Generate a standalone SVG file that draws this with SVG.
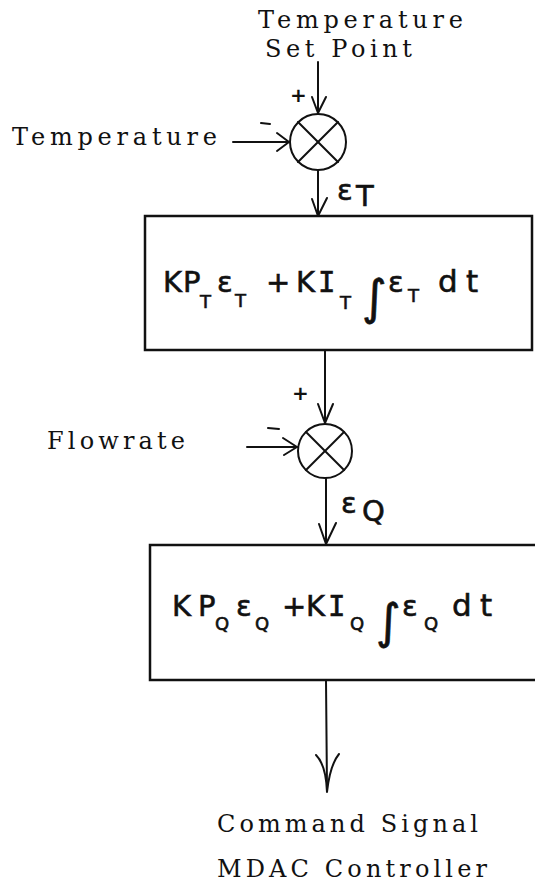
<svg xmlns="http://www.w3.org/2000/svg" width="535" height="887" viewBox="0 0 535 887">
<style>
.lbl{font-family:"DejaVu Serif","Liberation Serif",serif;font-size:24px;fill:#111}
.f{font-family:"DejaVu Sans","Liberation Sans",sans-serif;font-size:29px;fill:#111;stroke:#111;stroke-width:0.6}
.s{font-size:18px}
.m{font-family:"DejaVu Sans Mono","Liberation Mono",monospace}
.box{fill:none;stroke:#111;stroke-width:2.5}
.ln{fill:none;stroke:#111;stroke-width:2;stroke-linecap:round;stroke-linejoin:round}
.sig{font-family:"DejaVu Sans","Liberation Sans",sans-serif;font-size:20px;font-weight:bold;fill:#111}
</style>
<rect width="535" height="887" fill="#fff"/>
<g id="labels">
<text class="lbl" x="258" y="28" textLength="205" lengthAdjust="spacing">Temperature</text>
<text class="lbl" x="265" y="57" textLength="147" lengthAdjust="spacing">Set Point</text>
<text class="lbl" x="12" y="145" textLength="205" lengthAdjust="spacing">Temperature</text>
<text class="lbl" x="47" y="449" textLength="138" lengthAdjust="spacing">Flowrate</text>
<text class="lbl" x="217" y="832" textLength="261" lengthAdjust="spacing">Command Signal</text>
<text class="lbl" x="217" y="877" textLength="270" lengthAdjust="spacing">MDAC Controller</text>
</g>
<g id="sum1">
<circle cx="318" cy="142" r="28" class="ln"/>
<line x1="298" y1="122" x2="338" y2="162" class="ln"/>
<line x1="338" y1="122" x2="298" y2="162" class="ln"/>
<text class="sig" x="290" y="102">+</text>
<line x1="261" y1="123" x2="270" y2="124" class="ln" stroke-width="2.5"/>
</g>
<g id="pi1">
<rect x="145" y="216" width="387" height="134" class="box"/>
<text class="f">
<tspan x="163" y="292">K</tspan><tspan x="183" y="292">P</tspan><tspan class="s" x="200" y="308">T</tspan><tspan x="217" y="292">ε</tspan><tspan class="s" x="235" y="307">T</tspan><tspan x="266" y="292">+</tspan><tspan x="296" y="292">K</tspan><tspan class="m" x="318" y="292">I</tspan><tspan class="s" x="340" y="309">T</tspan><tspan x="362" y="314" font-size="48">∫</tspan><tspan x="388" y="292">ε</tspan><tspan class="s" x="408" y="302" font-size="15">T</tspan><tspan x="438" y="292" font-size="31">d</tspan><tspan x="466" y="292" font-size="31">t</tspan>
</text>
</g>
<g id="sum2">
<circle cx="325" cy="451" r="27" class="ln"/>
<line x1="306" y1="432" x2="344" y2="470" class="ln"/>
<line x1="344" y1="432" x2="306" y2="470" class="ln"/>
<text class="sig" x="292" y="400">+</text>
<line x1="268" y1="428" x2="279" y2="429" class="ln" stroke-width="2.5"/>
</g>
<g id="pi2">
<path d="M540 545 H150 V680 H540" class="box"/>
<text class="f">
<tspan x="172" y="616">K</tspan><tspan x="198" y="616">P</tspan><tspan class="s" x="215" y="630">Q</tspan><tspan x="236" y="616">ε</tspan><tspan class="s" x="255" y="630">Q</tspan><tspan x="282" y="616">+</tspan><tspan x="306" y="616">K</tspan><tspan class="m" x="328" y="616">I</tspan><tspan class="s" x="350" y="630">Q</tspan><tspan x="376" y="638" font-size="48">∫</tspan><tspan x="402" y="616">ε</tspan><tspan class="s" x="424" y="630">Q</tspan><tspan x="452" y="616" font-size="31">d</tspan><tspan x="480" y="616" font-size="31">t</tspan>
</text>
</g>
<g id="connectors">
<line x1="318" y1="62" x2="318" y2="113" class="ln"/>
<path d="M312 97 L318 113 L326 97" class="ln"/>
<line x1="233" y1="142" x2="289" y2="142" class="ln"/>
<path d="M277 133 L289 142 L277 151" class="ln"/>
<line x1="318" y1="170" x2="318" y2="216" class="ln"/>
<path d="M312 199 L318 216 L327 198" class="ln"/>
<line x1="325" y1="350" x2="325" y2="424" class="ln"/>
<path d="M318 404 L325 423 L333 404" class="ln"/>
<line x1="247" y1="447" x2="297" y2="447" class="ln"/>
<path d="M283 438 L297 447 L284 455" class="ln"/>
<line x1="326" y1="478" x2="326" y2="544" class="ln"/>
<path d="M319 524 L326 544 L336 523" class="ln"/>
<line x1="326" y1="680" x2="327" y2="790" class="ln" stroke-width="2.5"/>
<path d="M316 755 Q326 765 327 792 Q330 765 339 754" class="ln" stroke-width="3.5"/>
</g>
<g id="signals">
<text class="f" x="337" y="200" font-size="32">ε</text>
<text class="f" x="356" y="206" font-size="14">T</text>
<text class="f" x="341" y="513" font-size="30">ε</text>
<text class="f" x="362" y="521" font-size="17">Q</text>
</g>
</svg>
